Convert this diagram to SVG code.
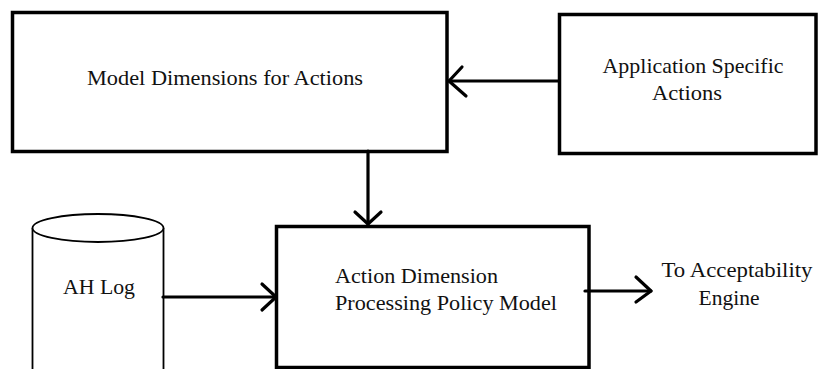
<svg xmlns="http://www.w3.org/2000/svg" width="818" height="369" viewBox="0 0 818 369">
  <style>
    .box { fill: #ffffff; stroke: #000000; stroke-width: 3.5; }
    .store { fill: #ffffff; stroke: #000000; stroke-width: 1.8; }
    .wire { fill: none; stroke: #000000; stroke-width: 3.2; stroke-linecap: round; stroke-linejoin: round; }
  </style>

  <rect width="818" height="369" fill="#ffffff"/>

  <g font-family="Liberation Serif, DejaVu Serif, serif" font-size="22" fill="#111111">
    <!-- upper left block -->
    <g id="model-dimensions">
      <rect class="box" x="12.5" y="12.5" width="434.5" height="139"/>
      <text x="225" y="85" text-anchor="middle" textLength="276" lengthAdjust="spacingAndGlyphs">Model Dimensions for Actions</text>
    </g>

    <!-- upper right block -->
    <g id="application-actions">
      <rect class="box" x="559.5" y="14.5" width="256.5" height="139"/>
      <text x="693" y="73" text-anchor="middle" textLength="181" lengthAdjust="spacingAndGlyphs">Application Specific</text>
      <text x="687" y="100" text-anchor="middle" textLength="70" lengthAdjust="spacingAndGlyphs">Actions</text>
    </g>

    <!-- log store, open at the bottom -->
    <g id="ah-log">
      <path class="store" d="M32.5 228 V372 M163.5 228 V372"/>
      <ellipse class="store" cx="98" cy="228" rx="65.5" ry="14"/>
      <text x="99" y="294" text-anchor="middle" textLength="72" lengthAdjust="spacingAndGlyphs">AH Log</text>
    </g>

    <!-- central processing block -->
    <g id="processing-policy">
      <rect class="box" x="276.5" y="226.5" width="312.5" height="141"/>
      <text x="335" y="283" textLength="163" lengthAdjust="spacingAndGlyphs">Action Dimension</text>
      <text x="335" y="310" textLength="222" lengthAdjust="spacingAndGlyphs">Processing Policy Model</text>
    </g>

    <!-- outgoing destination label -->
    <g id="acceptability-engine">
      <text x="737" y="277" text-anchor="middle" textLength="151" lengthAdjust="spacingAndGlyphs">To Acceptability</text>
      <text x="729" y="305" text-anchor="middle" textLength="61" lengthAdjust="spacingAndGlyphs">Engine</text>
    </g>
  </g>

  <g id="connectors">
    <!-- application actions into model dimensions -->
    <path class="wire" d="M559 81 H449"/>
    <path class="wire" d="M462 67 L449 81 L466 96"/>
    <!-- model dimensions down to processing block -->
    <path class="wire" d="M368 151 V224"/>
    <path class="wire" d="M355 212 L368 224 L381 212"/>
    <!-- log into processing block -->
    <path class="wire" d="M163 297 H276"/>
    <path class="wire" d="M262 284 L276 297 L262 310"/>
    <!-- processing block out to the engine -->
    <path class="wire" d="M585 291 H651"/>
    <path class="wire" d="M636 277 L651 291 L636 302"/>
  </g>
</svg>
